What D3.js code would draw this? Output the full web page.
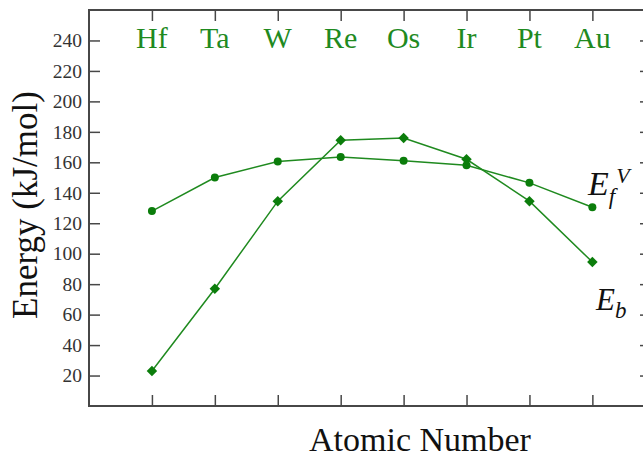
<!DOCTYPE html>
<html>
  <head>
    <script src="https://d3js.org/d3.v7.min.js"></script>
  </head>
  <body style="margin:0">
    <script type="text/javascript">

        // data
        const elements = ['Hf', 'Ta', 'W', 'Re', 'Os', 'Ir', 'Pt', 'Au']
        const atomicNumbers = [72, 73, 74, 75, 76, 77, 78, 79]
        const efv = [128, 150, 160.5, 163.5, 161, 158, 146.5, 130.5]
        const eb = [23, 77, 134.5, 174.5, 176, 162, 134.5, 94.5]
        const yTicks = [20, 40, 60, 80, 100, 120, 140, 160, 180, 200, 220, 240]

        const width = 643,
            height = 460

        const plotLeft = 89, plotTop = 10, plotBottom = 406, plotRight = 649

        const fontName = '"Liberation Serif", "Times New Roman", Tinos, serif'
        const green = '#1f8a1f'
        const markGreen = '#0b7d0b'
        const axisColor = '#474747'

        const svg = d3.select('body').append('svg')
            .attr('width', width)
            .attr('height', height)
            .style('font-family', fontName)

        const x = d3.scaleLinear().domain([71, 79.9]).range([plotLeft, plotRight])
        const y = d3.scaleLinear().domain([0, 260]).range([plotBottom, plotTop])

        // frame
        svg.append('rect')
            .attr('x', plotLeft).attr('y', plotTop)
            .attr('width', plotRight - plotLeft).attr('height', plotBottom - plotTop)
            .attr('fill', 'none')
            .attr('stroke', axisColor)
            .attr('stroke-width', 2)

        // axes, ticks pointing inward
        const styleAxis = g => {
            g.attr('font-family', null)
            g.select('.domain').remove()
            g.selectAll('.tick line').attr('stroke', axisColor).attr('stroke-width', 1.5)
        }

        svg.append('g')
            .attr('transform', `translate(${plotLeft},0)`)
            .call(d3.axisLeft(y).tickValues(yTicks).tickSize(-11).tickPadding(7))
            .call(styleAxis)
            .call(g => g.selectAll('text')
                .style('font-family', fontName)
                .attr('font-size', 19.5)
                .attr('fill', '#333'))

        svg.append('g')
            .attr('transform', `translate(${plotRight},0)`)
            .call(d3.axisRight(y).tickValues(yTicks).tickSize(-9).tickFormat(''))
            .call(styleAxis)

        svg.append('g')
            .attr('transform', `translate(0,${plotBottom})`)
            .call(d3.axisBottom(x).tickValues(atomicNumbers).tickSize(-11).tickFormat(''))
            .call(styleAxis)

        svg.append('g')
            .attr('transform', `translate(0,${plotTop})`)
            .call(d3.axisTop(x).tickValues(atomicNumbers).tickSize(-11).tickFormat(''))
            .call(styleAxis)

        // element labels along the top
        svg.append('g').selectAll('text')
            .data(elements)
            .enter()
            .append('text')
            .attr('x', (d, i) => x(atomicNumbers[i]))
            .attr('y', 48)
            .attr('text-anchor', 'middle')
            .style('font-family', fontName)
            .attr('font-size', 30)
            .attr('fill', green)
            .text(d => d)

        // series
        const line = d3.line()
            .x((d, i) => x(atomicNumbers[i]))
            .y(d => y(d))

        ;[efv, eb].forEach(series => {
            svg.append('path')
                .datum(series)
                .attr('d', line)
                .attr('fill', 'none')
                .attr('stroke', green)
                .attr('stroke-width', 1.5)
        })

        svg.append('g').selectAll('circle')
            .data(efv)
            .enter()
            .append('circle')
            .attr('cx', (d, i) => x(atomicNumbers[i]))
            .attr('cy', d => y(d))
            .attr('r', 4)
            .attr('fill', markGreen)

        const diamond = d3.symbol().type(d3.symbolDiamond2).size(70)
        svg.append('g').selectAll('path')
            .data(eb)
            .enter()
            .append('path')
            .attr('d', diamond)
            .attr('transform', (d, i) => `translate(${x(atomicNumbers[i])},${y(d)})`)
            .attr('fill', markGreen)

        // series labels
        const efLabel = svg.append('text')
            .attr('x', 588)
            .attr('y', 195)
            .style('font-family', fontName)
            .style('font-style', 'italic')
            .attr('font-size', 34)
            .attr('fill', '#111')
        efLabel.append('tspan').text('E')
        efLabel.append('tspan').attr('font-size', 23).attr('dy', 9).text('f')
        efLabel.append('tspan').attr('font-size', 22).attr('dx', 1).attr('dy', -21).text('V')

        const ebLabel = svg.append('text')
            .attr('x', 596)
            .attr('y', 310)
            .style('font-family', fontName)
            .style('font-style', 'italic')
            .attr('font-size', 31)
            .attr('fill', '#111')
        ebLabel.append('tspan').text('E')
        ebLabel.append('tspan').attr('font-size', 23).attr('dy', 8).text('b')

        // axis titles
        svg.append('text')
            .attr('transform', 'translate(37,205) rotate(-90)')
            .attr('text-anchor', 'middle')
            .style('font-family', fontName)
            .attr('font-size', 35)
            .attr('fill', '#111')
            .text('Energy (kJ/mol)')

        svg.append('text')
            .attr('x', 420)
            .attr('y', 451)
            .attr('text-anchor', 'middle')
            .style('font-family', fontName)
            .attr('font-size', 34)
            .attr('fill', '#111')
            .text('Atomic Number')

    </script>
  </body>
</html>
